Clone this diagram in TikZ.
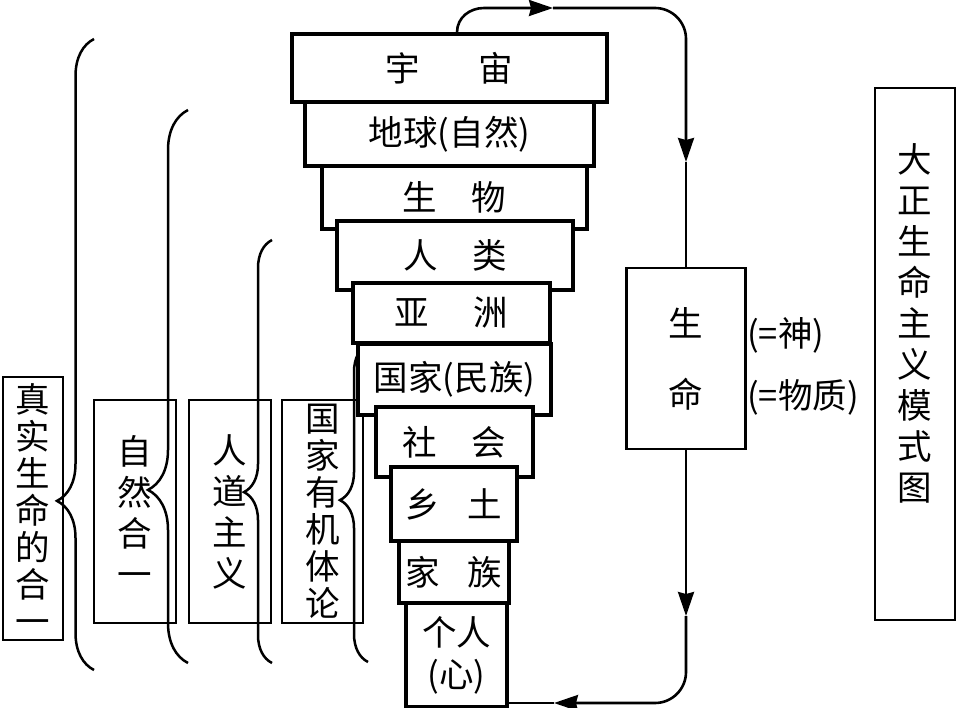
\documentclass[tikz,border=0pt]{standalone}
\usepackage{fontspec}
\setmainfont{Noto Sans CJK SC}
\usetikzlibrary{arrows.meta,decorations.pathreplacing}
\begin{document}
\begin{tikzpicture}[x=1pt, y=-1pt,
    every node/.style={inner sep=0pt, font=\fontsize{34.5}{37}\selectfont},
    layer/.style={draw, line width=3.3pt, fill=white, align=center},
    column/.style={draw, line width=2.9pt, align=center},
    curly/.style 2 args={line width=2.5pt, decorate, decoration={brace, amplitude=#1, aspect=#2}},
    flow/.style={line width=2.6pt},
    >={Stealth[length=24pt, width=16pt, inset=2pt]}]
    \useasboundingbox (0,0) rectangle (957,708);

    % left columns
    \node[column, minimum width=60pt, minimum height=263pt] (oneness) at (33,508.5) {真\\实\\生\\命\\的\\合\\一};
    \node[column, minimum width=82pt, minimum height=223pt] (nature) at (135,511.5) {自\\[4pt]然\\[4pt]合\\[4pt]一};
    \node[column, minimum width=82pt, minimum height=223pt] (humanism) at (230,511.5) {人\\[4pt]道\\[4pt]主\\[4pt]义};
    \node[column, minimum width=81pt, minimum height=223pt] (organic) at (322.5,511.5) {国\\家\\有\\机\\体\\论};

    % braces gathering the layers
    \draw[curly={37pt}{0.268}] (94,670) -- (94,39);
    \draw[curly={40pt}{0.313}] (188,663) -- (188,110);
    \draw[curly={28pt}{0.404}] (272,663) -- (272,240);
    \draw[curly={28pt}{0.509}] (368,662) -- (368,344);

    % the stack of layers, from the cosmos down to the self
    \node[layer, minimum width=315pt, minimum height=68pt] (uni) at (449.5,68) {宇\hspace{1.7em}宙};
    \node[layer, minimum width=289pt, minimum height=64pt] (earth) at (449.5,134) {地球(自然)};
    \node[layer, minimum width=265pt, minimum height=63pt] (bio) at (454.5,197.5) {生\hspace{1em}物};
    \node[layer, minimum width=236pt, minimum height=69pt] (human) at (455,255.5) {人\hspace{1em}类};
    \node[layer, minimum width=197pt, minimum height=60pt] (asia) at (451.5,313) {亚\hspace{1.3em}洲};
    \node[layer, minimum width=193pt, minimum height=71pt] (nation) at (454.5,379.5) {国家(民族)};
    \node[layer, minimum width=157pt, minimum height=70pt] (society) at (454.5,442) {社\hspace{1em}会};
    \node[layer, minimum width=126pt, minimum height=74pt] (local) at (454,504) {乡\hspace{0.8em}土};
    \node[layer, minimum width=110pt, minimum height=62pt] (clan) at (454,572) {家\hspace{0.8em}族};
    \node[layer, minimum width=101pt, minimum height=104pt] (self) at (456.5,655) {个人\\[5pt](心)};

    % life and its two readings
    \node[column, minimum width=119pt, minimum height=181pt] (life) at (686,358.5) {生\\[34pt]命};
    \node[anchor=west] (god) at (747,335) {(=神)};
    \node[anchor=west] (matter) at (747,397) {(=物质)};

    % title
    \node[column, minimum width=80pt, minimum height=532pt] (title) at (915,354) {};
    \node[align=center] (titletext) at (915,323) {大\\[4pt]正\\[4pt]生\\[4pt]命\\[4pt]主\\[4pt]义\\[4pt]模\\[4pt]式\\[4pt]图};

    % loop from the cosmos round to life
    \coordinate (rise) at (484,8);
    \coordinate (topmark) at (553,8);
    \coordinate (turn) at (686,8);
    \coordinate (downmark) at (686,162);
    \draw[flow, ->] ([xshift=7.5pt]uni.north) .. controls +(0,-15) and +(-14,0) .. (rise) -- (topmark);
    \draw[flow, ->, rounded corners=31pt] (topmark) -- (turn) -- (downmark);
    \draw[flow] (downmark) -- (life.north);

    % loop from life back to the self
    \coordinate (lowmark) at (686,616);
    \coordinate (corner) at (686,703);
    \coordinate (backmark) at (554,703);
    \draw[flow, ->] (life.south) -- (lowmark);
    \draw[flow, ->, rounded corners=31pt] (lowmark) -- (corner) -- (backmark);
    \draw[flow] (backmark) -- (backmark -| self.east);
\end{tikzpicture}
\end{document}
